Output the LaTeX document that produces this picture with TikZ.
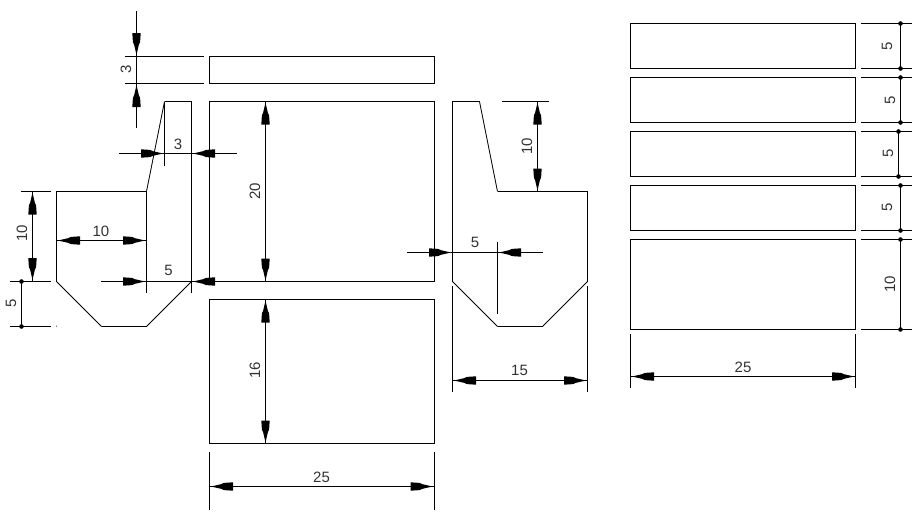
\documentclass[tikz,border=0pt]{standalone}
\usepackage{fontspec}
\setmainfont{Liberation Sans}
\tikzset{
  x=1pt,y=-1pt,
  part/.style={line width=1pt,black},
  thin part/.style={line width=0.85pt,black},
  dimline/.style={line width=0.9pt,black},
  dimtext/.style={font=\fontsize{15}{15}\selectfont,text=black!80,inner sep=0pt},
  vtext/.style={dimtext,rotate=90},
  headtip/.pic={\fill[black] (0,0)--(-10,2.3)--(-13,3.6)--(-22,4.2)--(-22,-4.2)--(-13,-3.6)--(-10,-2.3)--cycle;},
  dotmark/.pic={\fill[black] (0,0) circle[radius=2.3];},
  toR/.style={rotate=0},toL/.style={rotate=180},toU/.style={rotate=90},toD/.style={rotate=-90}
}
\begin{document}
\begin{tikzpicture}
\useasboundingbox[fill=white] (0,0) rectangle (913,517);
% ---- outlines: left view
\draw[part] (56.5,281.5)--(56.5,191.5)--(146.5,191.5);
\draw[thin part] (146.5,191.5)--(164.5,101.5);
\draw[part] (164.5,101.5)--(191.5,101.5)--(191.5,292.5);
\draw[thin part] (56.5,281.5)--(101.5,326.5);
\draw[part] (101.5,326.5)--(146.5,326.5);
\draw[thin part] (146.5,326.5)--(191.5,281.5);
\draw[part] (146.5,191.5)--(146.5,292.5);
\draw[part] (164.5,101.5)--(164.5,165.5);
% ---- rectangles, centre
\draw[part] (209.5,56.5) rectangle (434.5,83.5);
\draw[part] (209.5,101.5) rectangle (434.5,281.5);
\draw[part] (209.5,299.5) rectangle (434.5,443.5);
% ---- outlines: right view
\draw[part] (452.5,281.5)--(452.5,101.5)--(479.5,101.5);
\draw[thin part] (479.5,101.5)--(497.5,191.5);
\draw[part] (497.5,191.5)--(587.5,191.5)--(587.5,281.5);
\draw[thin part] (452.5,281.5)--(497.5,326.5);
\draw[part] (497.5,326.5)--(542.5,326.5);
\draw[thin part] (542.5,326.5)--(587.5,281.5);
\draw[part] (497.5,241.5)--(497.5,313.5);
% ---- rectangles, right
\foreach \ya/\yb in {23.5/68.5,77.5/122.5,131.5/176.5,185.5/230.5,239.5/329.5}{
  \draw[part] (630.5,\ya) rectangle (855.5,\yb);
  \draw[dimline] (861,\ya)--(912,\ya);
  \draw[dimline] (861,\yb)--(912,\yb);
}
% ---- dims: top-left 3
\draw[dimline] (125,56.5)--(204,56.5) (125,83.5)--(204,83.5);
\draw[dimline] (136.5,11)--(136.5,128);
\pic[toD] at (136.5,55) {headtip};
\pic[toU] at (136.5,85) {headtip};
\node[vtext] (t3a) at (126,69.5) {3};
% ---- dim 3 horizontal
\draw[dimline] (119,153.5)--(237,153.5);
\pic[toR] at (163,153.5) {headtip};
\pic[toL] at (193,153.5) {headtip};
\node[dimtext] (t3b) at (178,144) {3};
% ---- dim 10 vertical left
\draw[dimline] (21,191.5)--(51,191.5) (10,281.5)--(51,281.5) (10,326.5)--(51,326.5);
\draw[dimline] (32.5,191.5)--(32.5,281.5);
\pic[toU] at (32.5,192.5) {headtip};
\pic[toD] at (32.5,280) {headtip};
\node[vtext] (t10a) at (22,233) {10};
% ---- dim 5 vertical left
\draw[dimline] (21.5,281.5)--(21.5,326.5);
\pic at (21.5,281.5) {dotmark};
\pic at (21.5,326.5) {dotmark};
\node[vtext] (t5a) at (11,303) {5};
\fill[black] (56.5,326) circle[radius=0.5];
% ---- dim 10 horizontal
\draw[dimline] (57,240.5)--(146,240.5);
\pic[toL] at (58,240.5) {headtip};
\pic[toR] at (145,240.5) {headtip};
\node[dimtext] (t10b) at (101,231) {10};
% ---- dim 5 horizontal
\draw[dimline] (101,281.5)--(240,281.5);
\pic[toR] at (145,281.5) {headtip};
\pic[toL] at (193,281.5) {headtip};
\node[dimtext] (t5b) at (168.5,270.5) {5};
% ---- dim 20, 16
\draw[dimline] (265.5,101.5)--(265.5,281.5);
\pic[toU] at (265.5,102.5) {headtip};
\pic[toD] at (265.5,280.5) {headtip};
\node[vtext] (t20) at (255,191) {20};
\draw[dimline] (265.5,299.5)--(265.5,443.5);
\pic[toU] at (265.5,300.5) {headtip};
\pic[toD] at (265.5,442.5) {headtip};
\node[vtext] (t16) at (255,370) {16};
% ---- dim 25 centre
\draw[dimline] (209.5,452)--(209.5,510) (434.5,452)--(434.5,510);
\draw[dimline] (209.5,486.5)--(434.5,486.5);
\pic[toL] at (211,486.5) {headtip};
\pic[toR] at (432.5,486.5) {headtip};
\node[dimtext] (t25a) at (321.5,477) {25};
% ---- right view dims
\draw[dimline] (502,101.5)--(549,101.5);
\draw[dimline] (537.5,101.5)--(537.5,191.5);
\pic[toU] at (537.5,102.5) {headtip};
\pic[toD] at (537.5,190.5) {headtip};
\node[vtext] (t10c) at (527,146) {10};
\draw[dimline] (407,252.5)--(543,252.5);
\pic[toR] at (451,252.5) {headtip};
\pic[toL] at (499,252.5) {headtip};
\node[dimtext] (t5c) at (475,242) {5};
\draw[dimline] (452.5,286)--(452.5,392) (587.5,286)--(587.5,392);
\draw[dimline] (452.5,380.5)--(587.5,380.5);
\pic[toL] at (454,380.5) {headtip};
\pic[toR] at (586,380.5) {headtip};
\node[dimtext] (t15) at (519.5,370.5) {15};
% ---- far right dims
\foreach \xx/\ya/\yb in {900.5/23.5/68.5,900.5/77.5/122.5,898.5/131.5/176.5,900.5/185.5/230.5,900.5/239.5/329.5}{
  \draw[dimline] (\xx,\ya)--(\xx,\yb);
  \pic at (\xx,\ya) {dotmark};
  \pic at (\xx,\yb) {dotmark};
}
\node[vtext] (r1) at (887,46) {5};
\node[vtext] (r2) at (890,100) {5};
\node[vtext] (r3) at (888,153) {5};
\node[vtext] (r4) at (887,207) {5};
\node[vtext] (r5) at (890,284) {10};
\draw[dimline] (630.5,334)--(630.5,388) (855.5,334)--(855.5,388);
\draw[dimline] (630.5,376.5)--(855.5,376.5);
\pic[toL] at (632,376.5) {headtip};
\pic[toR] at (854,376.5) {headtip};
\node[dimtext] (t25b) at (743,367) {25};
\end{tikzpicture}
\end{document}
